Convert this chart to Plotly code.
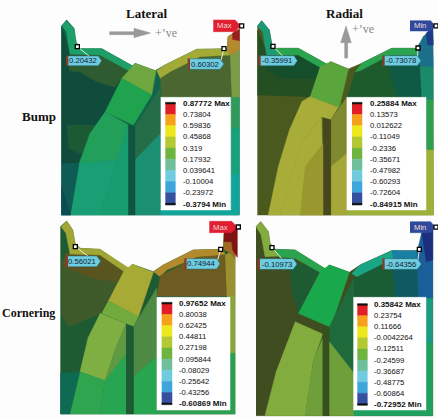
import plotly.graph_objects as go

# FEA contour plots, coords are crop pixels (3x)
swatch_colors = ["#e01f26", "#f5a11c", "#ece81c", "#b4c832", "#6fb43f", "#6fc09a", "#70cbdf", "#3fa6dc", "#34509f"]

bump_lateral_values = ["0.87772 Max", "0.73804", "0.59836", "0.45868", "0.319", "0.17932", "0.039641", "-0.10004", "-0.23972", "-0.3794 Min"]
bump_radial_values = ["0.25884 Max", "0.13573", "0.012622", "-0.11049", "-0.2336", "-0.35671", "-0.47982", "-0.60293", "-0.72604", "-0.84915 Min"]
corner_lateral_values = ["0.97652 Max", "0.80038", "0.62425", "0.44811", "0.27198", "0.095844", "-0.08029", "-0.25642", "-0.43256", "-0.60869 Min"]
corner_radial_values = ["0.35842 Max", "0.23754", "0.11666", "-0.0042264", "-0.12511", "-0.24599", "-0.36687", "-0.48775", "-0.60864", "-0.72952 Min"]

bump_lateral_regions = [
    ("#12634c", [(184,78),(200,60),(222,85),(228,125),(238,146),(305,146),(398,198),(405,190),(465,212),(495,195),(590,148),(682,146),(684,110),(718,88),(718,645),(184,645)]),
    ("#104c3c", [(184,78),(205,140),(210,165),(390,215),(318,340),(270,445),(235,490),(184,490)]),
    ("#1b5a34", [(200,375),(300,375),(270,445),(240,462),(205,445)]),
    ("#2e5b30", [(207,165),(300,165),(390,215),(365,235),(345,262),(290,245),(240,215),(207,212)]),
    ("#0f5c57", [(184,490),(235,490),(212,645),(184,645)]),
    ("#0d4a52", [(184,560),(212,645),(184,645)]),
    ("#1f9f68", [(197,62),(222,85),(228,125),(238,146),(305,146),(398,198),(392,215),(300,165),(210,162),(205,135),(200,95),(186,78)]),
    ("#4b6630", [(480,235),(510,215),(600,172),(690,165),(695,292),(485,292)]),
    ("#256d48", [(405,380),(482,262),(482,400),(420,480),(405,490)]),
    ("#1a8f72", [(405,480),(482,400),(482,645),(405,645)]),
    ("#a3aa35", [(470,212),(495,195),(590,148),(682,146),(690,165),(600,170),(510,215),(480,235)]),
    ("#7e9a45", [(690,165),(718,150),(718,300),(695,292)]),
    ("#2f9a5c", [(692,292),(718,292),(718,385),(692,385)]),
    ("#17a27c", [(692,385),(718,385),(718,525),(692,525)]),
    ("#12a59c", [(692,525),(718,525),(718,645),(482,645),(482,625),(692,625)]),
    ("#b48a2c", [(682,146),(684,110),(718,88),(718,150),(690,165)]),
    ("#9c1f1f", [(697,100),(718,88),(718,122),(697,118)]),
    ("#6fa63f", [(398,198),(405,190),(468,212),(455,285),(365,235)]),
    ("#1fa34e", [(365,235),(455,285),(400,375),(315,335)]),
    ("#229f58", [(315,335),(385,375),(350,480),(238,490),(270,400)]),
    ("#1a9e74", [(238,490),(350,480),(325,575),(300,645),(212,645)]),
    ("#189d70", [(385,375),(385,645),(300,645),(325,575),(350,480)]),
    ("#0f5440", [(385,375),(405,380),(405,645),(385,645)]),
]

bump_radial_regions = [
    ("#4a5a1e", [(112,78),(125,62),(148,90),(155,130),(165,145),(235,145),(325,195),(332,185),(385,207),(425,190),(515,145),(605,145),(610,110),(638,85),(640,645),(112,645)]),
    ("#244f22", [(112,90),(135,145),(140,165),(300,200),(270,290),(112,285)]),
    ("#154e2a", [(140,165),(235,165),(300,200),(285,235),(190,235),(140,210)]),
    ("#1b9a75", [(125,62),(148,90),(155,130),(165,145),(180,165),(140,165),(133,130),(128,95),(112,78)]),
    ("#2aa44f", [(165,145),(235,145),(325,195),(318,212),(235,165),(170,165)]),
    ("#5aa53c", [(300,200),(332,185),(385,207),(358,322),(270,290)]),
    ("#a8ad3a", [(245,305),(270,290),(355,322),(332,358),(305,350),(250,420),(215,525),(180,645),(145,645),(175,500),(210,385)]),
    ("#a8ad3a", [(305,350),(310,645),(180,645),(215,525),(250,420)]),
    ("#98982f", [(255,500),(310,430),(310,645),(240,645)]),
    ("#7f8a2e", [(332,360),(382,290),(382,460),(332,500)]),
    ("#a5a838", [(332,500),(382,460),(382,645),(332,645)]),
    ("#45481c", [(310,355),(332,360),(332,645),(310,645)]),
    ("#1d5a2c", [(405,215),(505,165),(600,165),(605,292),(382,292)]),
    ("#0f5a45", [(505,200),(600,165),(605,292),(530,292)]),
    ("#2aa44f", [(425,190),(515,145),(605,145),(600,165),(510,165),(420,212),(405,215)]),
    ("#1c6f8a", [(590,145),(610,110),(638,85),(640,200),(600,200)]),
    ("#1e3a8a", [(618,100),(638,85),(640,135),(622,135)]),
    ("#1a8a6a", [(600,200),(640,200),(640,300),(605,300)]),
    ("#2f9f4f", [(618,300),(640,300),(640,450),(618,450)]),
    ("#9fb03a", [(618,450),(640,450),(640,645),(382,645),(382,630),(618,630)]),
]

corner_lateral_regions = [
    ("#1e5a32", [(181,50),(200,33),(218,60),(225,100),(240,115),(300,118),(390,180),(397,163),(460,185),(490,165),(580,120),(670,118),(672,70),(705,45),(705,612),(181,612)]),
    ("#3f5a2a", [(184,150),(370,180),(320,300),(280,320),(205,350),(184,310)]),
    ("#5a5420", [(195,130),(300,132),(375,178),(350,215),(280,205),(190,170)]),
    ("#0f6a54", [(181,490),(238,485),(210,612),(181,612)]),
    ("#a1a635", [(200,33),(218,60),(225,100),(240,115),(300,118),(392,178),(380,190),(300,135),(210,132),(203,100),(198,70),(183,50)]),
    ("#b08a2c", [(460,185),(490,165),(580,120),(670,118),(675,135),(590,142),(500,180),(480,200)]),
    ("#6d5c22", [(480,198),(590,142),(675,135),(680,258),(470,258)]),
    ("#9a9030", [(675,135),(705,120),(705,260),(680,258)]),
    ("#8aa53c", [(682,258),(705,258),(705,430),(682,430)]),
    ("#2ca050", [(682,430),(705,430),(705,612),(470,612),(470,600),(682,600)]),
    ("#a06a24", [(670,118),(672,70),(705,45),(705,145),(690,130)]),
    ("#7e1414", [(672,70),(705,45),(712,60),(712,142),(698,120),(695,95),(672,95)]),
    ("#a7ab36", [(370,185),(397,163),(460,187),(415,320),(325,272)]),
    ("#71ab3e", [(325,272),(415,320),(400,350),(305,310)]),
    ("#7fae43", [(300,310),(378,342),(345,420),(315,512),(240,485),(265,380)]),
    ("#2fa54f", [(240,485),(315,512),(300,612),(210,612)]),
    ("#28a550", [(315,512),(378,430),(378,612),(300,612)]),
    ("#5f9a42", [(378,342),(345,420),(315,512),(378,430)]),
    ("#4f8a44", [(400,350),(470,235),(470,440),(400,500)]),
    ("#28a550", [(400,500),(470,440),(470,612),(400,612)]),
    ("#1e5a34", [(378,342),(400,350),(400,612),(378,612)]),
]

corner_radial_regions = [
    ("#3f4d20", [(108,50),(122,35),(145,65),(150,100),(165,118),(225,120),(318,178),(328,165),(388,187),(420,165),(515,122),(598,122),(605,70),(638,45),(638,617),(108,617)]),
    ("#1e5a32", [(205,150),(300,180),(235,310),(215,240)]),
    ("#82ad3e", [(122,35),(145,65),(150,100),(165,118),(178,138),(135,140),(128,100),(122,72),(108,50)]),
    ("#2aa44f", [(165,118),(225,120),(318,178),(305,190),(225,145),(175,140)]),
    ("#1aa84c", [(300,185),(328,165),(388,187),(332,352),(235,310)]),
    ("#82ad3e", [(225,335),(308,372),(280,450),(255,617),(135,617),(170,480)]),
    ("#6f9f3a", [(280,450),(308,385),(308,617),(255,617)]),
    ("#36501f", [(308,348),(328,352),(328,617),(308,617)]),
    ("#1e6a3a", [(328,350),(402,205),(402,490),(328,395)]),
    ("#6f9f3a", [(328,395),(402,490),(402,617),(328,617)]),
    ("#1a5c34", [(402,205),(515,145),(525,265),(402,265)]),
    ("#0e5a60", [(515,145),(590,145),(595,265),(525,265)]),
    ("#1aa585", [(420,165),(515,122),(530,122),(520,145),(410,200),(395,190)]),
    ("#1a7fa5", [(515,122),(598,122),(595,145),(520,145)]),
    ("#1a5f9a", [(590,130),(605,70),(638,45),(638,265),(595,265)]),
    ("#1c2f7f", [(605,70),(638,45),(638,150),(618,155)]),
    ("#1a9a80", [(618,265),(638,265),(638,400),(618,400)]),
    ("#1fa060", [(618,400),(638,400),(638,617),(402,617),(402,600),(618,600)]),
]

panels = [
    dict(ox=0, oy=0, regions=bump_lateral_regions, values=bump_lateral_values, box=(482,292,692,630), sw=(496,526), tx=545, ty=(310,612),
         tags=[("0.20432",205,168,295,197,305,232,140),("0.60302",570,176,660,208,672,672,146)], flag=("Max",640,60,705,95,722,"#e01f30")),
    dict(ox=220, oy=0, regions=bump_radial_regions, values=bump_radial_values, box=(380,292,618,630), sw=(396,426), tx=446, ty=(310,612),
         tags=[("-0.35991",122,167,222,197,232,159,139),("-0.73078",494,167,592,197,603,594,144)], flag=("Min",570,62,632,93,645,"#2f4a9c")),
    dict(ox=0, oy=210, regions=corner_lateral_regions, values=corner_lateral_values, box=(470,262,690,600), sw=(485,516), tx=533, ty=(280,581),
         tags=[("0.56021",204,138,290,170,302,226,110),("0.74944",560,146,650,177,660,662,118)], flag=("Max",628,34,695,68,712,"#e01f30")),
    dict(ox=220, oy=210, regions=corner_radial_regions, values=corner_radial_values, box=(400,262,618,600), sw=(412,442), tx=459, ty=(284,583),
         tags=[("-0.10973",120,146,220,178,231,156,113),("-0.64356",494,146,592,178,604,598,118)], flag=("Min",570,35,632,68,645,"#2f4a9c")),
]

fig = go.Figure()


def poly(color, pts, ox, oy, line=None):
    xs = [ox + p[0] / 3 for p in pts]
    ys = [oy + p[1] / 3 for p in pts]
    fig.add_trace(go.Scatter(x=xs, y=ys, mode="lines", fill="toself", fillcolor=color,
                             line=dict(color=line or color, width=0.5), hoverinfo="skip"))


def label(x, y, text, size, color="#111", bold=False, family="Liberation Sans", anchor="left"):
    if bold:
        text = "<b>" + text + "</b>"
    fig.add_annotation(x=x, y=y, text=text, showarrow=False, xanchor=anchor, yanchor="middle",
                       font=dict(size=size, color=color, family=family))


for p in panels:
    ox, oy = p["ox"], p["oy"]
    for color, pts in p["regions"]:
        poly(color, pts, ox, oy)

    # legend box
    x0, y0, x1, y1 = p["box"]
    poly("white", [(x0,y0),(x1,y0),(x1,y1),(x0,y1)], ox, oy)
    s0, s1 = p["sw"]
    t0, t1 = p["ty"]
    step = (t1 - t0) / 9
    for i, c in enumerate(swatch_colors):
        poly(c, [(s0,t0+i*step),(s1,t0+i*step),(s1,t0+(i+1)*step),(s0,t0+(i+1)*step)], ox, oy)
    poly("#111", [(s0,t0-3),(s1,t0-3),(s1,t0+2),(s0,t0+2)], ox, oy)
    poly("#111", [(s0,t1-2),(s1,t1-2),(s1,t1+3),(s0,t1+3)], ox, oy)
    for i, v in enumerate(p["values"]):
        if i in (0, 9):
            label(ox + p["tx"] / 3 - 1, oy + (t0 + i * step) / 3, v, 8, bold=True)
        else:
            label(ox + p["tx"] / 3 - 1, oy + (t0 + i * step) / 3, v, 7.7)

    # probes
    for text, a, b, c, d, tip, mx, my in p["tags"]:
        mid = (b + d) / 2
        fig.add_trace(go.Scatter(x=[ox + mx / 3, ox + (c if mx > c else (a + 80)) / 3], y=[oy + my / 3, oy + mid / 3],
                                 mode="lines", line=dict(color="#e8f0d8", width=1), hoverinfo="skip"))
        poly("#8a3a28", [(a-7,b),(a,b),(a,d),(a-7,d)], ox, oy)
        poly("#6fcde0", [(a,b),(c,b),(tip,mid),(c,d),(a,d)], ox, oy, line="#2a6a78")
        label(ox + (a + c) / 6, oy + mid / 3, text, 7.7, color="#123", anchor="center")
        fig.add_trace(go.Scatter(x=[ox + mx / 3], y=[oy + my / 3], mode="markers",
                                 marker=dict(symbol="square", size=4, color="white", line=dict(color="black", width=1.3)),
                                 hoverinfo="skip"))
    text, a, b, c, d, tip, col = p["flag"]
    mid = (b + d) / 2
    poly(col, [(a,b),(c,b),(tip,mid),(c,d),(a,d)], ox, oy)
    label(ox + (a + c) / 6, oy + mid / 3, text, 7.7, color="#f4d8d8", anchor="center")
    fig.add_trace(go.Scatter(x=[ox + (tip + 3) / 3], y=[oy + mid / 3], mode="markers",
                             marker=dict(symbol="square", size=4, color="white", line=dict(color="black", width=1.3)),
                             hoverinfo="skip"))

# direction arrows
poly("#999999", [(328,95),(402,95),(402,85),(452,99),(402,113),(402,104),(328,104)], 0, 0)
poly("#999999", [(374,175),(374,128),(362,128),(378,78),(394,128),(383,128),(383,175)], 220, 0)

serif = "Liberation Serif"
label(147, 13, "Lateral", 13, bold=True, family=serif, anchor="center")
label(344, 13, "Radial", 13, bold=True, family=serif, anchor="center")
label(39, 116, "Bump", 13, bold=True, family=serif, anchor="center")
label(57, 313, "Cornering", 12, bold=True, family=serif, anchor="right")
label(166, 33, "+’ve", 12, color="#888", family=serif, anchor="center")
label(363, 29, "+’ve", 12, color="#888", family=serif, anchor="center")

fig.update_xaxes(range=[0, 438], visible=False, fixedrange=True)
fig.update_yaxes(range=[418, 0], visible=False, fixedrange=True)
fig.update_layout(width=438, height=418, margin=dict(l=0, r=0, t=0, b=0), showlegend=False,
                  paper_bgcolor="#fdfdfd", plot_bgcolor="#fdfdfd")
fig.write_html("out.html", config={"displayModeBar": False}, post_script="document.body.style.margin='0';")
